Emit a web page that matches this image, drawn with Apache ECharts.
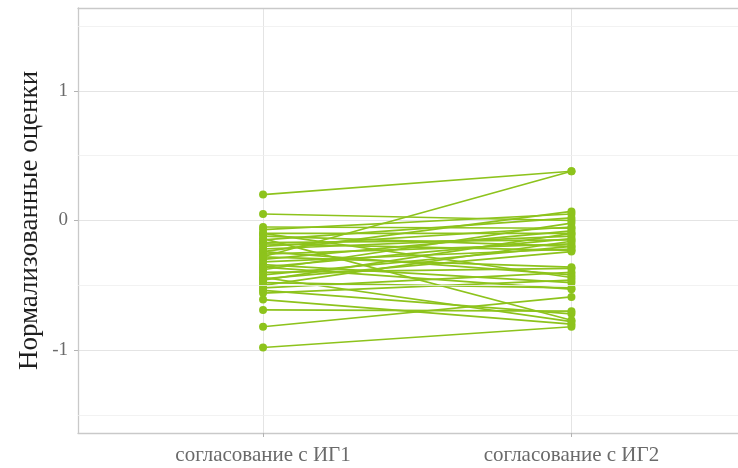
<!DOCTYPE html>
<html>
<head>
<meta charset="utf-8">
<script src="https://cdn.jsdelivr.net/npm/echarts@6/dist/echarts.min.js"></script>
<style>
  html, body { margin: 0; padding: 0; background: #ffffff; }
  #chart { width: 738px; height: 468px; }
</style>
</head>
<body>
<div id="chart"></div>
<script>
// Group labels on the x axis (positions 1 and 2)
const categories = ['согласование с ИГ1', 'согласование с ИГ2'];

// Normalised scores per participant: first and second agreement
const scoresIG1 = [0.20, 0.05, -0.28, -0.07, -0.10, -0.12, -0.15, -0.17, -0.18, -0.20,
  -0.22, -0.24, -0.26, -0.30, -0.32, -0.34, -0.36, -0.38, -0.40, -0.42,
  -0.44, -0.46, -0.48, -0.50, -0.52, -0.54, -0.24, -0.61, -0.69, -0.82,
  -0.98, -0.10, -0.14, -0.28, -0.36, -0.45, -0.56, -0.05];
const scoresIG2 = [0.38, 0.00, 0.38, 0.05, -0.10, -0.20, 0.02, -0.15, -0.23, -0.05,
  -0.12, -0.42, -0.18, -0.08, -0.22, -0.48, -0.14, -0.02, -0.37, -0.20,
  -0.78, -0.10, -0.52, -0.16, -0.40, -0.72, 0.07, -0.80, -0.70, -0.59,
  -0.82, -0.44, -0.77, -0.36, -0.53, -0.24, -0.46, -0.06];

// Axis ticks
const yMajorTicks = [-1, 0, 1];
const yMinorTicks = [-1.5, -0.5, 0.5, 1.5];
const xTicks = [1, 2];

const green = '#8dc31c';
const serif = '"Liberation Serif", "DejaVu Serif", serif';
const frame = { color: '#c9c9c9', width: 1.3 };

const series = scoresIG1.map((a, i) => ({
  type: 'line',
  data: [[1, a], [2, scoresIG2[i]]],
  symbol: 'circle',
  symbolSize: 8,
  showSymbol: true,
  lineStyle: { color: green, width: 1.7 },
  itemStyle: { color: green },
  emphasis: { disabled: true },
  silent: true,
  z: 3
}));

// Light minor grid lines
series.push({
  type: 'line',
  data: [],
  silent: true,
  markLine: {
    silent: true,
    symbol: 'none',
    label: { show: false },
    lineStyle: { color: '#efefef', width: 0.8, type: 'solid' },
    data: yMinorTicks.map(v => ({ yAxis: v }))
  },
  z: 1
});

const chart = echarts.init(document.getElementById('chart'), null, { renderer: 'canvas' });
chart.setOption({
  animation: false,
  backgroundColor: '#ffffff',
  grid: { left: 78, top: 8, right: 0, bottom: 35, show: false },
  xAxis: [{
    type: 'value',
    min: 0.4, max: 2.54,
    axisLine: { show: true, onZero: false, lineStyle: frame },
    axisTick: { show: true, customValues: xTicks, length: 4, lineStyle: { color: '#b3b3b3' } },
    axisLabel: {
      customValues: xTicks,
      formatter: v => categories[Math.round(v) - 1],
      fontFamily: serif, fontSize: 21, color: '#6a6a6a', margin: 12
    },
    splitLine: { show: true, lineStyle: { color: '#e4e4e4', width: 1 } }
  }, {
    type: 'value',
    position: 'top',
    min: 0.4, max: 2.54,
    axisLine: { show: true, onZero: false, lineStyle: frame },
    axisTick: { show: false },
    axisLabel: { show: false },
    splitLine: { show: false }
  }],
  yAxis: {
    type: 'value',
    min: -1.64, max: 1.64,
    name: 'Нормализованные оценки',
    nameLocation: 'middle',
    nameGap: 35,
    nameMoveOverlap: false,
    nameTextStyle: { fontFamily: serif, fontSize: 27, color: '#1f1f1f' },
    axisLine: { show: true, onZero: false, lineStyle: frame },
    axisTick: { show: true, customValues: yMajorTicks, length: 4, lineStyle: { color: '#b3b3b3' } },
    axisLabel: {
      customValues: yMajorTicks,
      fontFamily: serif, fontSize: 19, color: '#6a6a6a', margin: 10
    },
    splitLine: { show: true, lineStyle: { color: '#e4e4e4', width: 1 } }
  },
  series: series
});
</script>
</body>
</html>
